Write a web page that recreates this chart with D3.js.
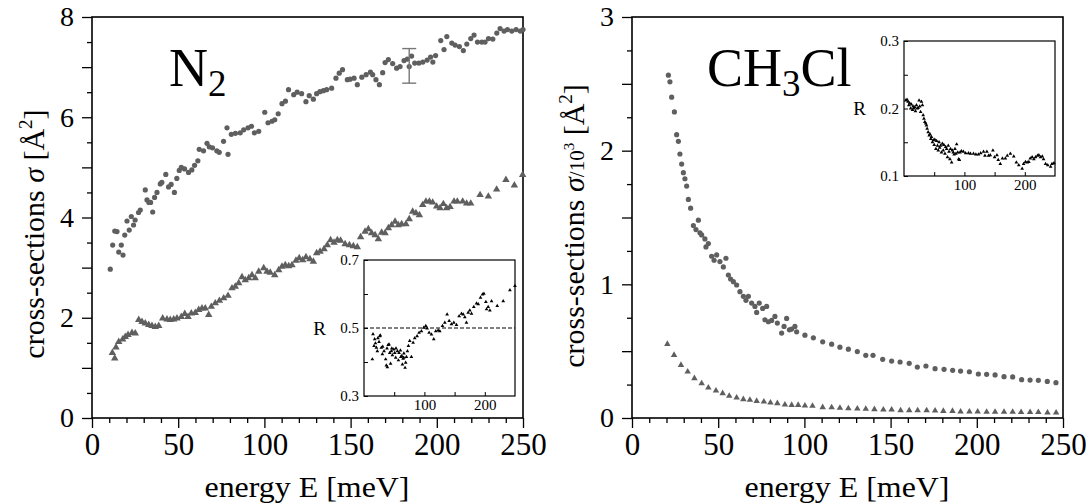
<!DOCTYPE html>
<html><head><meta charset="utf-8">
<script src="https://cdn.jsdelivr.net/npm/d3@7"></script>
<style>
body{margin:0;background:#fff;}
svg{display:block;}
</style></head>
<body>
<svg id="c" width="1088" height="504"></svg>
<script>
// ---------- DATA ----------
// N2: upper series (circles)
const n2CircE = [10.6,12,13.2,14.5,15.5,17,18,19,20.3,21.6,22.8,24.1,25,27,28,30.9,31.9,33,34,35.2,36.3,37.7,39.6,40.5,42.8,44.4,45.9,47.8,49.2,50.6,51.8,53.7,56,57.9,59.5,61.4,62.2,64.7,66.7,68,69.9,72.4,73.8,76.3,78.3,78.9,80.8,83.2,86,88,90.5,92.5,94.2,96.7,100.2,102.1,104.4,106,108,110.2,112.2,114,117,119,121.6,124.1,126,128.4,130.3,132.2,134.2,136.1,139,141.5,143.4,145.3,148.1,149.7,152,153.9,156.5,159,161.5,162.8,164.7,166.7,168.6,170,171.9,174.4,176.7,178.7,181,182.9,184,185.4,187.2,189.6,191.9,194.4,196.4,197.7,199.3,202.3,204.2,205.8,208.7,210.6,213.1,215.4,217.4,219.7,221.6,223.6,226.1,228,230,232.5,234.8,236.7,239,241,243.5,246,248.4,250];
const n2CircV = [2.97,3.45,3.73,3.72,3.31,3.45,3.25,3.65,3.93,3.75,4.02,3.85,3.95,4.1,4.15,4.55,4.35,4.3,4.3,4.11,4.4,4.5,4.67,4.7,4.86,4.61,4.66,4.5,4.78,4.94,5.0,4.97,4.9,4.95,5.04,5.13,5.36,5.33,5.48,5.41,5.39,5.33,5.3,5.52,5.79,5.26,5.66,5.68,5.69,5.75,5.79,5.82,5.69,5.72,6.1,5.89,5.92,5.95,6.07,6.27,6.32,6.55,6.45,6.5,6.47,6.31,6.43,6.36,6.47,6.51,6.53,6.55,6.58,6.78,6.88,6.95,6.75,6.76,6.78,6.65,6.8,6.85,6.9,6.85,6.75,6.65,6.89,7.09,7.15,7.07,6.98,7.01,7.13,7.16,7.01,7.22,7.08,7.08,7.1,7.14,7.2,7.1,7.23,7.53,7.35,7.61,7.48,7.44,7.41,7.33,7.46,7.57,7.64,7.5,7.5,7.5,7.57,7.56,7.68,7.77,7.72,7.75,7.72,7.75,7.72,7.75];
// N2: lower series (triangles)
const n2TriE = [11.8,13.2,13.9,15.5,17.8,19.3,20.9,23.2,25.1,27.1,29,30.9,32.9,34.8,36.7,38.7,41,43.5,45.4,47.4,49.3,51.8,53.8,55.7,57.6,59.9,61.9,63.8,65.7,67.7,69.2,71.5,73.9,76.4,78.9,81.2,83.1,85.1,87,88.9,90.9,92.8,94.7,96.7,99.6,101.5,103.4,106,108.3,110.2,112.1,114.1,116,118.3,120.2,122.2,124.1,126.4,128.4,130.3,132.3,134.6,136.5,138.4,140.4,142.3,144.2,146.8,149.3,151.6,153.9,155.8,158.4,160.3,162.2,164.2,166.1,168,170,171.9,173.8,175.8,177.7,179.6,182.1,184,186,187.9,189.9,191.8,193.7,195.7,197.6,199.9,201.9,203.8,205.7,207.7,210,211.9,215,217.3,219.7,225.1,229.9,234.7,240.1,245,249.8];
const n2TriV = [1.3,1.19,1.41,1.52,1.57,1.62,1.66,1.7,1.69,1.96,1.92,1.89,1.86,1.84,1.82,1.84,1.99,1.97,1.96,1.97,1.99,2.02,2.08,2.02,2.09,2.1,2.16,2.19,2.19,2.06,2.22,2.29,2.34,2.39,2.44,2.59,2.62,2.69,2.81,2.75,2.79,2.85,2.79,2.92,2.99,2.92,2.9,2.85,2.95,3.02,3.05,3.03,3.05,3.14,3.19,3.15,3.21,3.17,3.12,3.29,3.32,3.37,3.45,3.55,3.5,3.55,3.54,3.47,3.45,3.43,3.41,3.61,3.72,3.77,3.69,3.65,3.57,3.7,3.69,3.79,3.85,3.92,3.85,3.87,3.87,3.97,4.12,4.09,4.05,4.25,4.32,4.32,4.3,4.22,4.19,4.27,4.19,4.21,4.32,4.32,4.32,4.28,4.28,4.45,4.42,4.56,4.75,4.64,4.85];
// N2 error bar
const n2ErrE = 184, n2ErrLo = 6.68, n2ErrHi = 7.37;
// N2 inset ratio R
const n2RE = [13.8,14.9,16.6,17.7,19,20.5,22.1,23,24.9,26,27,28.7,30.4,31,33.2,35.9,37,38.1,38.7,40,41.5,42.6,44,45.3,46,47,49.2,50.9,52.5,53,55.3,57,58,60.3,61,62.5,63.6,64.7,65.8,66,68,69,70.2,71.9,73.5,75.7,78.5,81.3,84,87.9,91.2,95.1,98.9,102.3,104.5,107.8,111.7,115.5,118.8,122.7,125.5,129.9,133.8,137.6,141,144.8,148.7,153.1,157.5,161.4,164.2,166.9,169.6,172.5,175.2,178,181.8,186.3,189.1,192.9,196.2,198.5,201.8,202.9,205.6,208.4,211.2,220.6,230.5,241.6,249.9];
const n2RV = [0.408,0.482,0.447,0.467,0.455,0.442,0.432,0.47,0.459,0.476,0.478,0.442,0.423,0.445,0.432,0.408,0.39,0.44,0.385,0.45,0.452,0.427,0.395,0.432,0.44,0.42,0.437,0.427,0.413,0.44,0.432,0.405,0.427,0.434,0.415,0.418,0.393,0.41,0.413,0.425,0.383,0.398,0.415,0.432,0.447,0.462,0.415,0.457,0.47,0.476,0.486,0.491,0.501,0.506,0.499,0.486,0.481,0.467,0.491,0.493,0.491,0.506,0.516,0.54,0.521,0.511,0.516,0.509,0.535,0.542,0.54,0.532,0.516,0.545,0.552,0.542,0.562,0.572,0.57,0.589,0.599,0.601,0.577,0.555,0.562,0.552,0.579,0.565,0.579,0.611,0.624];

// CH3Cl: upper series (circles)
const chCircE = [21.1,22,23,24.6,25.9,26.9,27.8,28.8,29.8,30.7,31.7,32.7,34,35.6,37.1,38.5,39.4,40.4,42.3,42.9,44.3,46.2,47.6,49.1,51,53,54.5,55.9,57.2,58.8,60.7,62.6,64.6,66.1,67.5,69.4,71.3,72.3,73.8,75.8,77.1,78.1,79.1,81,82.9,84.3,86.8,88.2,89.7,91.3,92.6,94.5,95.5,100.3,105.2,110.6,115.8,120.6,125.5,130.7,135.6,139.8,145.4,150.6,155.5,160.8,165.5,170.5,175.8,181,186,190.6,195.7,200.9,205.7,210.6,215.8,220.8,226,230.9,235.7,240.9,245.9];
const chCircV = [2.565,2.515,2.4,2.29,2.12,2.07,1.975,1.9,1.835,1.79,1.735,1.635,1.57,1.44,1.41,1.48,1.385,1.37,1.34,1.28,1.305,1.21,1.18,1.22,1.17,1.13,1.195,1.07,1.04,1.02,0.995,0.945,0.91,0.88,0.91,0.86,0.835,0.79,0.86,0.82,0.735,0.835,0.72,0.73,0.76,0.71,0.635,0.685,0.745,0.66,0.665,0.685,0.645,0.62,0.6,0.57,0.552,0.53,0.515,0.497,0.469,0.469,0.439,0.426,0.419,0.409,0.381,0.389,0.369,0.364,0.357,0.351,0.346,0.329,0.327,0.322,0.309,0.307,0.287,0.284,0.282,0.274,0.264];
// CH3Cl: lower series (triangles)
const chTriE = [20.5,24.4,28.4,32.3,36.2,40.4,44.3,48.7,52.6,56.4,60.7,64.6,68.4,72.3,76.5,80.3,84.3,88.7,92.6,96.4,100.3,104.7,110.6,115.8,120.6,125.5,130.7,135.6,140.6,145.8,150.6,155.8,160.8,165.7,170.9,175.8,180.6,185.9,190.6,195.7,200.5,205.7,210.6,215.8,220.8,225.7,230.9,235.7,241,246];
const chTriV = [0.553,0.471,0.396,0.346,0.297,0.259,0.227,0.204,0.185,0.165,0.152,0.14,0.135,0.127,0.122,0.115,0.11,0.1,0.097,0.097,0.092,0.09,0.08,0.079,0.075,0.072,0.07,0.068,0.065,0.062,0.062,0.057,0.057,0.057,0.057,0.055,0.052,0.052,0.047,0.047,0.047,0.046,0.045,0.045,0.045,0.044,0.044,0.043,0.04,0.04];
// CH3Cl inset ratio R
const chRE = [2.8,5,6.7,8,9.4,11,12.2,14,15,16.5,17.8,19,20.6,22,23.3,25,26.1,27.5,28.9,30.5,31.7,33,34.5,36,37.2,38.3,40,41.7,43,44.4,45.5,47.2,48.5,50,51,52.8,54,55.5,56.7,58,59,60.6,62,63.5,65,66,67.8,69,70.5,72,73.3,74.5,76,77,78.9,80,81.5,83,84.4,86,87.2,89,90.5,91.7,92.8,95,98.3,102,106.7,110,115,119,123.3,127,131.7,134,137.2,140,142.8,147.2,150,153.9,156,159.4,163,167.8,171,176.1,181.7,186,190,195.6,198,201.1,204,206.7,209,212.2,215,217.8,221,223.3,226,228.9,231,234.4,238,242.8,245,248.3];
const chRV = [0.212,0.213,0.21,0.205,0.208,0.2,0.206,0.198,0.203,0.2,0.202,0.196,0.205,0.2,0.201,0.212,0.203,0.195,0.21,0.205,0.19,0.185,0.18,0.178,0.175,0.17,0.165,0.16,0.162,0.155,0.158,0.15,0.153,0.146,0.154,0.14,0.152,0.145,0.138,0.15,0.142,0.145,0.135,0.148,0.138,0.146,0.133,0.143,0.14,0.128,0.145,0.136,0.125,0.14,0.12,0.138,0.135,0.132,0.14,0.133,0.147,0.135,0.125,0.124,0.135,0.137,0.136,0.134,0.134,0.133,0.133,0.132,0.132,0.134,0.136,0.13,0.136,0.13,0.131,0.138,0.128,0.131,0.124,0.118,0.126,0.126,0.13,0.133,0.129,0.12,0.116,0.111,0.118,0.121,0.12,0.121,0.126,0.128,0.125,0.128,0.13,0.131,0.128,0.129,0.125,0.118,0.116,0.114,0.118,0.119];

// tick values
const xMajor = [0,50,100,150,200,250];
const xMinor = [10,20,30,40,60,70,80,90,110,120,130,140,160,170,180,190,210,220,230,240];
const yLeftLong = [0,1,2,3,4,5,6,7,8];
const yLeftShort = [0.5,1.5,2.5,3.5,4.5,5.5,6.5,7.5];
const yLeftLabels = [0,2,4,6,8];
const yRightLong = [0,0.5,1,1.5,2,2.5,3];
const yRightShort = [0.25,0.75,1.25,1.75,2.25,2.75];
const yRightLabels = [0,1,2,3];
const insetXTicks = [50,100,150,200];
const insetXLabels = [100,200];
const n2InsetYTicks = [0.3,0.4,0.5,0.6,0.7];
const n2InsetYLabels = [0.3,0.5,0.7];
const chInsetYTicks = [0.1,0.15,0.2,0.25,0.3];
const chInsetYLabels = [0.1,0.2,0.3];

// ---------- DRAW ----------
const FONT = "Liberation Serif";
const svg = d3.select("#c");
const GREY = "#5f5f5f";
const zip = (a,b)=>a.map((v,i)=>[v,b[i]]);

function panel(opt){
  const g = svg.append("g");
  const x = d3.scaleLinear().domain([0,250]).range([opt.x0,opt.x1]);
  const y = d3.scaleLinear().domain(opt.yDom).range([418,17]);
  g.append("g").attr("transform",`translate(0,418)`)
    .call(d3.axisBottom(x).tickValues(xMinor).tickSize(5).tickFormat(""))
    .call(a=>a.select(".domain").remove());
  g.append("g").attr("transform",`translate(0,418)`)
    .call(d3.axisBottom(x).tickValues(xMajor).tickSize(10).tickPadding(5).tickFormat(d3.format("d")))
    .call(a=>a.select(".domain").remove())
    .call(a=>a.selectAll("text").style("font-size","31px"));
  g.append("g").attr("transform",`translate(${opt.x0},0)`)
    .call(d3.axisLeft(y).tickValues(opt.yShort).tickSize(5).tickFormat(""))
    .call(a=>a.select(".domain").remove());
  g.append("g").attr("transform",`translate(${opt.x0},0)`)
    .call(d3.axisLeft(y).tickValues(opt.yLong).tickSize(10).tickPadding(8)
      .tickFormat(v=>opt.yLabels.includes(v)?d3.format("d")(v):""))
    .call(a=>a.select(".domain").remove())
    .call(a=>a.selectAll("text").style("font-size","28px"));
  g.selectAll(".tick line").attr("stroke","#000").attr("stroke-width",1.3);
  g.append("rect").attr("x",opt.x0).attr("y",17).attr("width",opt.x1-opt.x0).attr("height",401)
    .attr("fill","none").attr("stroke","#000").attr("stroke-width",1.6);
  return {g,x,y};
}

function drawCircles(g,x,y,data,r){
  g.append("g").selectAll("circle").data(data).join("circle")
    .attr("cx",d=>x(d[0])).attr("cy",d=>y(d[1])).attr("r",r).attr("fill",GREY);
}
function drawTris(g,x,y,data,size,color){
  const sym = d3.symbol().type(d3.symbolTriangle).size(size);
  g.append("g").selectAll("path").data(data).join("path")
    .attr("d",sym).attr("transform",d=>`translate(${x(d[0])},${y(d[1])})`).attr("fill",color);
}

function inset(opt){
  const g = svg.append("g");
  const x = d3.scaleLinear().domain([0,250]).range([opt.x0,opt.x1]);
  const y = d3.scaleLinear().domain(opt.yDom).range([opt.y1,opt.y0]);
  g.append("rect").attr("x",opt.x0).attr("y",opt.y0).attr("width",opt.x1-opt.x0).attr("height",opt.y1-opt.y0)
    .attr("fill","#fff").attr("stroke","#000").attr("stroke-width",1.2);
  g.append("g").attr("transform",`translate(0,${opt.y1})`)
    .call(d3.axisBottom(x).tickValues(insetXTicks).tickSize(-4).tickPadding(3)
      .tickFormat(v=>insetXLabels.includes(v)?v:""))
    .call(a=>a.select(".domain").remove())
    .call(a=>a.selectAll("text").style("font-size","15px"));
  g.append("g").attr("transform",`translate(${opt.x0},0)`)
    .call(d3.axisLeft(y).tickValues(opt.yTicks).tickSize(-4).tickPadding(5)
      .tickFormat(v=>opt.yLabels.includes(v)?d3.format(".1f")(v):""))
    .call(a=>a.select(".domain").remove())
    .call(a=>a.selectAll("text").style("font-size","15px"));
  g.selectAll(".tick line").attr("stroke","#000").attr("stroke-width",1);
  g.append("text").attr("x",opt.x0-38).attr("y",y(opt.rAt)).attr("dy","0.35em")
    .attr("text-anchor","end").style("font-size","19px").text("R");
  return {g,x,y};
}

// ----- Left panel: N2 -----
const L = panel({x0:92,x1:523,yDom:[0,8],yLong:yLeftLong,yShort:yLeftShort,yLabels:yLeftLabels});
drawCircles(L.g,L.x,L.y,zip(n2CircE,n2CircV),2.6);
drawTris(L.g,L.x,L.y,zip(n2TriE,n2TriV),24,GREY);
const eb = L.g.append("g").attr("stroke","#777").attr("stroke-width",1.4);
eb.append("line").attr("x1",L.x(n2ErrE)).attr("x2",L.x(n2ErrE)).attr("y1",L.y(n2ErrLo)).attr("y2",L.y(n2ErrHi));
[n2ErrLo,n2ErrHi].forEach(v=>eb.append("line").attr("x1",L.x(n2ErrE)-7).attr("x2",L.x(n2ErrE)+7).attr("y1",L.y(v)).attr("y2",L.y(v)));
const t1 = svg.append("text").attr("x",169).attr("y",86).style("font-size","54px");
t1.append("tspan").text("N");
t1.append("tspan").style("font-size","37px").attr("dy",10).text("2");
const LI = inset({x0:364,x1:515,y0:260,y1:396,yDom:[0.3,0.7],yTicks:n2InsetYTicks,yLabels:n2InsetYLabels,rAt:0.5});
LI.g.append("line").attr("x1",364).attr("x2",515).attr("y1",LI.y(0.5)).attr("y2",LI.y(0.5))
  .attr("stroke","#000").attr("stroke-width",1).attr("stroke-dasharray","4,2");
drawTris(LI.g,LI.x,LI.y,zip(n2RE,n2RV),6,"#000");

// ----- Right panel: CH3Cl -----
const R = panel({x0:632,x1:1063,yDom:[0,3],yLong:yRightLong,yShort:yRightShort,yLabels:yRightLabels});
drawCircles(R.g,R.x,R.y,zip(chCircE,chCircV),2.6);
drawTris(R.g,R.x,R.y,zip(chTriE,chTriV),18,GREY);
const t2 = svg.append("text").attr("x",707).attr("y",86).style("font-size","54px");
t2.append("tspan").text("CH");
t2.append("tspan").style("font-size","37px").attr("dy",10).text("3");
t2.append("tspan").attr("dy",-10).text("Cl");
const RI = inset({x0:904,x1:1055,y0:41,y1:176,yDom:[0.1,0.3],yTicks:chInsetYTicks,yLabels:chInsetYLabels,rAt:0.2});
drawTris(RI.g,RI.x,RI.y,zip(chRE,chRV),6,"#000");

// ----- axis titles -----
function xTitle(cx){
  svg.append("text").attr("x",cx).attr("y",497).attr("text-anchor","middle").style("font-size","30px")
    .attr("textLength",205).attr("lengthAdjust","spacingAndGlyphs")
    .text("energy E [meV]");
}
xTitle(307); xTitle(847);
const yt1 = svg.append("text").attr("transform","translate(44,234) rotate(-90)").attr("text-anchor","middle").style("font-size","30px");
yt1.append("tspan").text("cross-sections ");
yt1.append("tspan").style("font-style","italic").text("σ");
yt1.append("tspan").text(" [Å");
yt1.append("tspan").style("font-size","19px").attr("dy",-12).text("2");
yt1.append("tspan").attr("dy",12).text("]");
const yt2 = svg.append("text").attr("transform","translate(584,226) rotate(-90)").attr("text-anchor","middle").style("font-size","30px");
yt2.append("tspan").text("cross-sections ");
yt2.append("tspan").style("font-style","italic").text("σ");
yt2.append("tspan").style("font-size","21px").text("/10");
yt2.append("tspan").style("font-size","15px").attr("dy",-10).text("3");
yt2.append("tspan").attr("dy",10).text(" [Å");
yt2.append("tspan").style("font-size","19px").attr("dy",-12).text("2");
yt2.append("tspan").attr("dy",12).text("]");

// serif font everywhere, inline
svg.selectAll("text").style("font-family",FONT).style("fill","#000");
svg.selectAll("g").attr("font-family",null);
</script>
</body></html>
